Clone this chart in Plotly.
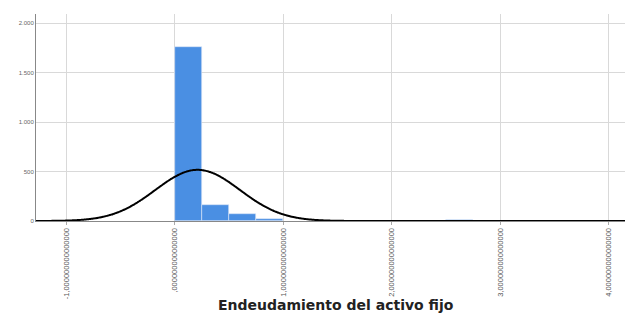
import numpy as np
import plotly.graph_objects as go

# Histogram data (bin lower edges, counts)
bin_starts = [0.0, 0.25, 0.5, 0.75, 2.5]
bin_width = 0.25
counts = [1760, 160, 70, 25, 10]

# Normal curve parameters
curve_mean = 0.21
curve_sd = 0.39
n_total = 2025

x_tickvals = [-1, 0, 1, 2, 3, 4]
x_ticktext = ["-1,000000000000000", ",000000000000000", "1,000000000000000",
              "2,000000000000000", "3,000000000000000", "4,000000000000000"]
y_tickvals = [0, 500, 1000, 1500, 2000]
y_ticktext = ["0", "500", "1.000", "1.500", "2.000"]

centers = [b + bin_width / 2 for b in bin_starts]

xs = np.linspace(-1.28, 4.15, 600)
ys = n_total * bin_width / (curve_sd * np.sqrt(2 * np.pi)) * np.exp(-0.5 * ((xs - curve_mean) / curve_sd) ** 2)

fig = go.Figure()
fig.add_trace(go.Bar(x=centers, y=counts, width=bin_width,
                     marker=dict(color="#4a8fe3", line=dict(color="#dfe9f7", width=0.6)),
                     showlegend=False))
fig.add_trace(go.Scatter(x=xs, y=ys, mode="lines", line=dict(color="black", width=2, shape="spline"),
                         showlegend=False))

fig.update_layout(
    width=631, height=313,
    margin=dict(l=36, r=6, t=14, b=92),
    paper_bgcolor="white", plot_bgcolor="white",
    bargap=0,
    font=dict(family="Arial, Liberation Sans, sans-serif", color="#555"),
    xaxis=dict(range=[-1.28, 4.15], tickvals=x_tickvals, ticktext=x_ticktext,
               tickangle=-90, tickfont=dict(size=7.5, color="#555"),
               showgrid=True, gridcolor="#d9d9d9", gridwidth=1,
               showline=True, linecolor="#888", linewidth=1,
               ticks="outside", ticklen=3, tickcolor="#aaa", zeroline=False,
               automargin=False),
    yaxis=dict(range=[0, 2095], tickvals=y_tickvals, ticktext=y_ticktext,
               tickfont=dict(size=6, color="#666"),
               showgrid=True, gridcolor="#d9d9d9", gridwidth=1,
               showline=True, linecolor="#888", linewidth=1,
               ticks="", zeroline=False, automargin=False),
)
fig.add_annotation(text="<b>Endeudamiento del activo fijo</b>", xref="paper", yref="paper",
                   x=0.51, y=-0.405, yanchor="middle", showarrow=False,
                   font=dict(size=14, color="#222", family="DejaVu Sans, sans-serif"))

fig.write_html("out.html", config={"displayModeBar": False},
               post_script="document.body.style.margin='0px';document.body.style.overflow='hidden';")
